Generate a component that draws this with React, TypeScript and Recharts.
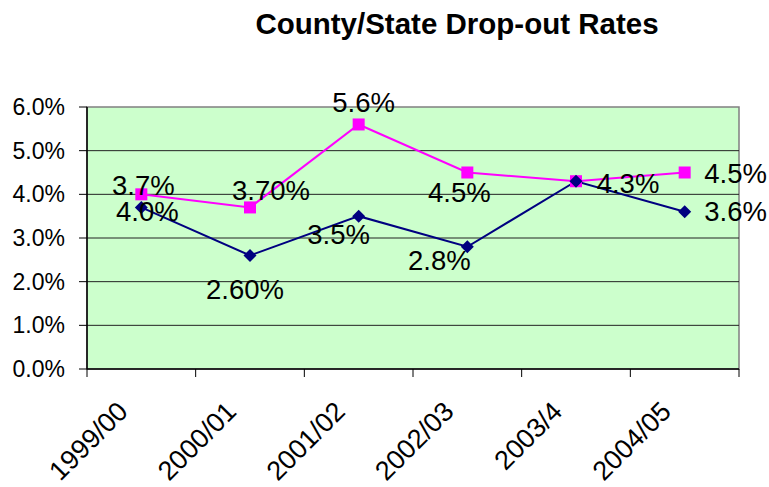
import {
  Customized,
  LabelList,
  Line,
  LineChart,
  ReferenceArea,
  ReferenceLine,
  XAxis,
  YAxis,
} from "recharts";

const categories = ["1999/00", "2000/01", "2001/02", "2002/03", "2003/4", "2004/05"];
const stateRates = [4.0, 3.7, 5.6, 4.5, 4.3, 4.5];
const countyRates = [3.7, 2.6, 3.5, 2.8, 4.3, 3.6];
const stateLabels = ["3.7%", "3.70%", "5.6%", "4.5%", "4.3%", "4.5%"];
const countyLabels = ["4.0%", "2.60%", "3.5%", "2.8%", "", "3.6%"];
const yTicks = [0, 1, 2, 3, 4, 5, 6];
const gridValues = [1, 2, 3, 4, 5];

// label nudges (dx, dy from the point), the original labels were dragged around by hand
const stateLabelOffsets = [[2, -9], [21, -17], [5, -22], [-8, 20], [52, 2], [51, 1]];
const countyLabelOffsets = [[6, 4], [-5, 34], [-20, 18], [-28, 14], [0, 0], [51, 0]];

const data = categories.map((c, i) => ({
  name: c,
  state: stateRates[i],
  county: countyRates[i],
  stateLabel: stateLabels[i],
  countyLabel: countyLabels[i],
}));

const FONT = "'Liberation Sans', Arial, sans-serif";
const MAGENTA = "#ff00ff";
const NAVY = "#000080";

const Square = (p: any) => {
  if (p.cx == null) return null;
  return <rect x={p.cx - 6} y={p.cy - 6} width={12} height={12} fill={MAGENTA} />;
};

const Diamond = (p: any) => {
  if (p.cx == null) return null;
  const r = 6.5;
  return (
    <polygon
      points={`${p.cx},${p.cy - r} ${p.cx + r},${p.cy} ${p.cx},${p.cy + r} ${p.cx - r},${p.cy}`}
      fill={NAVY}
    />
  );
};

const makeLabel = (offsets: number[][]) => (p: any) => {
  const { x, y, value, index } = p;
  if (!value) return null;
  const [dx, dy] = offsets[index] ?? [0, 0];
  return (
    <text
      x={x + dx}
      y={y + dy + 9.5}
      textAnchor="middle"
      fontSize={27.5}
      fontFamily={FONT}
      fill="#000"
    >
      {value}
    </text>
  );
};

// band-edge tick marks + rotated label, like the Excel category axis
const CategoryTick = (p: any) => {
  const { x, y, payload, index } = p;
  const half = payload?.offset ?? 0;
  const tx = x - 12;
  const ty = y + 44;
  return (
    <g>
      <line x1={x - half} y1={y} x2={x - half} y2={y + 8} stroke="#000" />
      {index === categories.length - 1 && (
        <line x1={x + half} y1={y} x2={x + half} y2={y + 8} stroke="#000" />
      )}
      <text
        x={tx}
        y={ty}
        textAnchor="end"
        fontSize={27}
        fontFamily={FONT}
        fill="#000"
        transform={`rotate(-45, ${tx}, ${ty})`}
      >
        {payload.value}
      </text>
    </g>
  );
};

const Annotations = () => (
  <g fontFamily={FONT}>
    <text x={457} y={34} textAnchor="middle" fontSize={29.5} fontWeight="bold" fill="#000">
      County/State Drop-out Rates
    </text>
    <text x={99} y={133} fontSize={23.5} fontWeight="bold" fill="#0000ff">State</text>
    <text x={99} y={244} fontSize={23.5} fontWeight="bold" fill="#0000ff">County</text>
    <text x={631} y={133} fontSize={23.5} fontWeight="bold" fill="#0000ff">State</text>
    <text x={642} y={259} fontSize={23.5} fontWeight="bold" fill="#0000ff">County</text>
  </g>
);

export default function App() {
  return (
    <div style={{ position: "absolute", left: 0, top: 0, background: "#fff" }}>
      <LineChart
        width={769}
        height={487}
        data={data}
        margin={{ top: 107, right: 30, bottom: 0, left: 0 }}
      >
        <ReferenceArea
          x1={categories[0]}
          x2={categories[categories.length - 1]}
          y1={0}
          y2={6}
          fill="#ccffcc"
          fillOpacity={1}
          stroke="#808080"
          strokeWidth={1.5}
        />
        {gridValues.map((v) => (
          <ReferenceLine key={v} y={v} stroke="#222" strokeWidth={1} />
        ))}
        <XAxis
          dataKey="name"
          scale="band"
          height={118}
          axisLine={{ stroke: "#000", strokeWidth: 1.5 }}
          tickLine={false}
          tickSize={0}
          tickMargin={0}
          interval={0}
          tick={<CategoryTick />}
        />
        <YAxis
          domain={[0, 6]}
          ticks={yTicks}
          width={87}
          tickSize={8}
          tickMargin={14}
          tickFormatter={(v: number) => `${v.toFixed(1)}%`}
          tick={{ fontSize: 23, fontFamily: FONT, fill: "#000" }}
          axisLine={{ stroke: "#000", strokeWidth: 1.5 }}
          tickLine={{ stroke: "#000" }}
        />
        <Line
          dataKey="state"
          stroke={MAGENTA}
          strokeWidth={2}
          dot={<Square />}
          activeDot={false}
          isAnimationActive={false}
        >
          <LabelList dataKey="stateLabel" content={makeLabel(stateLabelOffsets)} />
        </Line>
        <Line
          dataKey="county"
          stroke={NAVY}
          strokeWidth={2}
          dot={<Diamond />}
          activeDot={false}
          isAnimationActive={false}
        >
          <LabelList dataKey="countyLabel" content={makeLabel(countyLabelOffsets)} />
        </Line>
        <Customized component={Annotations} />
      </LineChart>
    </div>
  );
}
